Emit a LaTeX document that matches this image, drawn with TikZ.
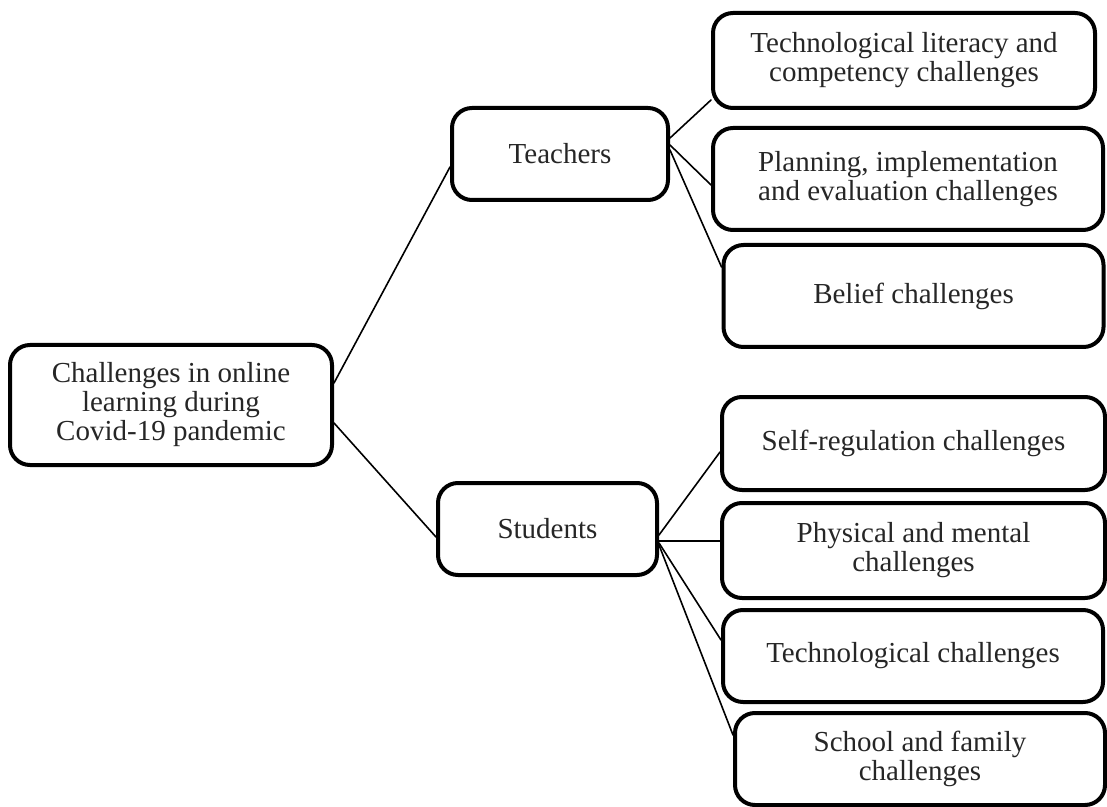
\documentclass[tikz,border=0pt]{standalone}
\usepackage{fontspec}
\setmainfont{Liberation Serif}
\begin{document}
\begin{tikzpicture}[x=0.5pt,y=-0.5pt,line join=round,line cap=round,
    font=\fontsize{14.5}{14.5}\selectfont,
    box/.style={draw,line width=2pt,rounded corners=10pt,align=center,text=black!85,inner sep=0pt},
    link/.style={line width=0.8pt}]
    \useasboundingbox (0,0) rectangle (1107,807);
    % main node
    \node[box,minimum width=161pt,minimum height=60pt] (root) at (171,405)
        {Challenges in online\\learning during\\Covid-19 pandemic};
    \node[box,minimum width=108pt,minimum height=46pt] (teach) at (560,154) {Teachers};
    \node[box,minimum width=109.5pt,minimum height=46pt] (stud) at (547.5,529) {Students};
    % teachers
    \node[box,minimum width=191pt,minimum height=47.5pt] (techlit) at (904,60.5)
        {Technological literacy and\\competency challenges};
    \node[box,minimum width=195pt,minimum height=51pt] (plan) at (908,179)
        {Planning, implementation\\and evaluation challenges};
    \node[box,minimum width=190pt,minimum height=51pt] (belief) at (913.5,296) {Belief challenges};
    % students
    \node[box,minimum width=191.5pt,minimum height=46.5pt] (selfreg) at (913.5,443.5) {Self-regulation challenges};
    \node[box,minimum width=191.5pt,minimum height=47.5pt] (phys) at (913.5,550.5)
        {Physical and mental\\challenges};
    \node[box,minimum width=190pt,minimum height=46pt] (tech) at (913,656) {Technological challenges};
    \node[box,minimum width=185pt,minimum height=46pt] (school) at (920,759)
        {School and family\\challenges};
    % links
    \draw[link] ([yshift=11pt]root.east) -- ([yshift=-6.5pt]teach.west);
    \draw[link] ([yshift=-9pt]root.east) -- ([yshift=-4pt]stud.west);
    \draw[link] ([yshift=8pt]teach.east) -- ([yshift=5pt]techlit.south west);
    \draw[link] ([yshift=4.5pt]teach.east) -- ([yshift=-3pt]plan.west);
    \draw[link] ([yshift=2pt]teach.east) -- ([yshift=14.5pt]belief.west);
    \draw[link] ([yshift=-3pt]stud.east) -- ([yshift=-4.25pt]selfreg.west);
    \draw[link] ([yshift=-6pt]stud.east) -- ([yshift=4.75pt]phys.west);
    \draw[link] ([yshift=-7pt]stud.east) -- ([yshift=8pt]tech.west);
    \draw[link] ([yshift=-8pt]stud.east) -- ([yshift=12pt]school.west);
\end{tikzpicture}
\end{document}
